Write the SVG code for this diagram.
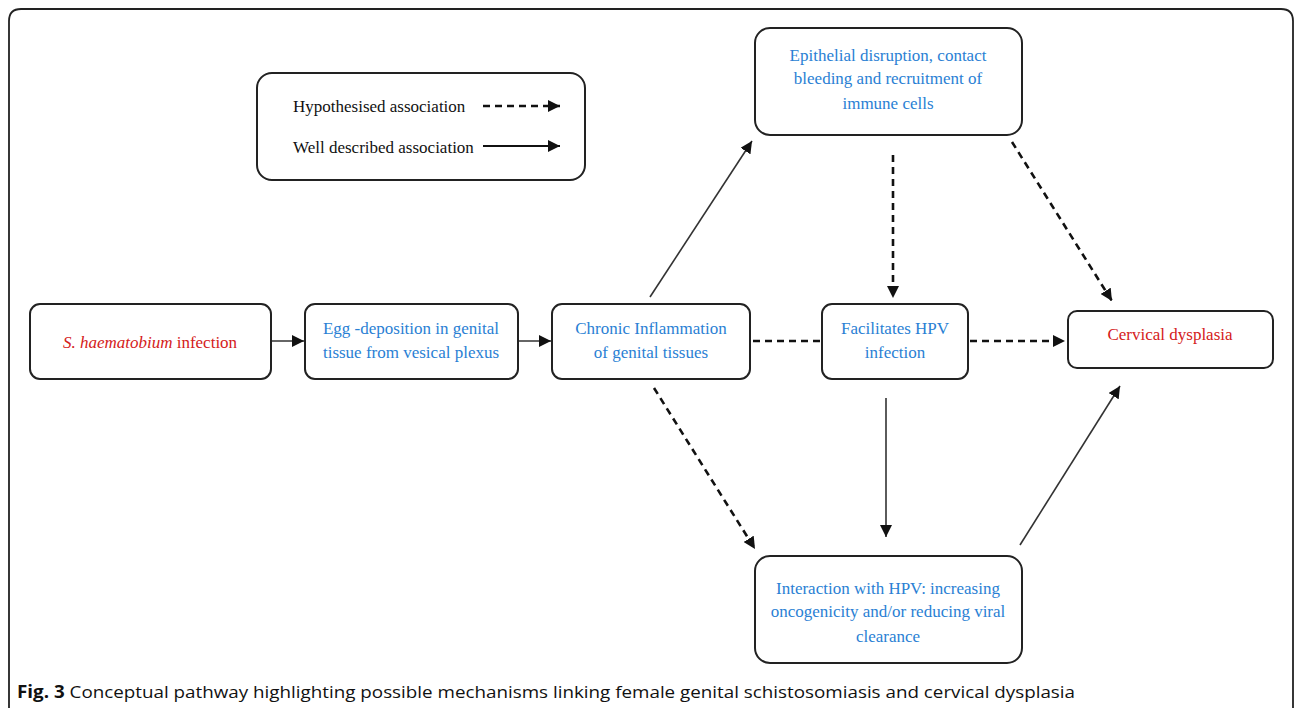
<svg xmlns="http://www.w3.org/2000/svg" width="1295" height="708" viewBox="0 0 1295 708">
<style>
.box{fill:#fff;stroke:#222;stroke-width:2}
.t{font-family:"Liberation Serif",serif;font-size:17px;text-anchor:middle}
.blue{fill:#2a7fd4}
.red{fill:#d42020}
.solid{stroke:#333;stroke-width:1.6;fill:none}
.dash{stroke:#111;stroke-width:2.6;stroke-dasharray:7 5;fill:none}
</style>
<defs>
<marker id="ah" markerUnits="userSpaceOnUse" markerWidth="14" markerHeight="12" refX="12" refY="6" orient="auto">
<path d="M0,0 L12,6 L0,12 Z" fill="#111"/>
</marker>
</defs>
<rect x="0" y="0" width="1295" height="708" fill="#fff"/>
<path d="M9,720 V21 Q9,9 21,9 H1281 Q1293,9 1293,21 V720" fill="none" stroke="#222" stroke-width="1.8"/>
<g id="legend">
<rect class="box" x="257" y="73" width="328" height="107" rx="15"/>
<text x="293" y="112" font-family="Liberation Serif,serif" font-size="17" fill="#111">Hypothesised association</text>
<text x="293" y="153" font-family="Liberation Serif,serif" font-size="17" fill="#111">Well described association</text>
<line class="dash" x1="483" y1="106" x2="560" y2="106" marker-end="url(#ah)"/>
<line stroke="#111" stroke-width="2.2" x1="483" y1="146" x2="560" y2="146" marker-end="url(#ah)"/>
</g>
<g id="connectors">
<line class="solid" x1="271" y1="341" x2="304" y2="341" marker-end="url(#ah)"/>
<line class="solid" x1="518" y1="341" x2="551" y2="341" marker-end="url(#ah)"/>
<line class="dash" x1="753" y1="341" x2="821" y2="341"/>
<line class="dash" x1="970" y1="341" x2="1065" y2="341" marker-end="url(#ah)"/>
<line class="solid" x1="650" y1="297" x2="752" y2="141" marker-end="url(#ah)"/>
<line class="dash" x1="893" y1="155" x2="893" y2="298" marker-end="url(#ah)"/>
<line class="dash" x1="1012" y1="142" x2="1112" y2="301" marker-end="url(#ah)"/>
<line class="dash" x1="654" y1="388" x2="755" y2="549" marker-end="url(#ah)"/>
<line class="solid" x1="886" y1="398" x2="886" y2="537" marker-end="url(#ah)"/>
<line class="solid" x1="1020" y1="545" x2="1120" y2="386" marker-end="url(#ah)"/>
</g>
<g id="n-infection">
<rect class="box" x="30" y="304" width="241" height="75" rx="10"/>
<text class="t red" x="150" y="348"><tspan font-style="italic">S. haematobium</tspan> infection</text>
</g>
<g id="n-egg">
<rect class="box" x="305" y="304" width="213" height="75" rx="10"/>
<text class="t blue" x="411" y="334">Egg -deposition in genital</text>
<text class="t blue" x="411" y="358">tissue from vesical plexus</text>
</g>
<g id="n-chronic">
<rect class="box" x="552" y="304" width="198" height="75" rx="10"/>
<text class="t blue" x="651" y="334">Chronic Inflammation</text>
<text class="t blue" x="651" y="358">of genital tissues</text>
</g>
<g id="n-facilitates">
<rect class="box" x="822" y="304" width="146" height="75" rx="10"/>
<text class="t blue" x="895" y="334">Facilitates HPV</text>
<text class="t blue" x="895" y="358">infection</text>
</g>
<g id="n-cervical">
<rect class="box" x="1068" y="311" width="205" height="57" rx="9"/>
<text class="t red" x="1170" y="340">Cervical dysplasia</text>
</g>
<g id="n-epithelial">
<rect class="box" x="755" y="28" width="267" height="107" rx="15"/>
<text class="t blue" x="888" y="61">Epithelial disruption, contact</text>
<text class="t blue" x="888" y="84">bleeding and recruitment of</text>
<text class="t blue" x="888" y="109">immune cells</text>
</g>
<g id="n-interaction">
<rect class="box" x="755" y="556" width="267" height="107" rx="15"/>
<text class="t blue" x="888" y="594">Interaction with HPV: increasing</text>
<text class="t blue" x="888" y="617">oncogenicity and/or reducing viral</text>
<text class="t blue" x="888" y="642">clearance</text>
</g>
<text x="17" y="698" font-family="Open Sans,sans-serif" font-size="17" fill="#111" textLength="1058" lengthAdjust="spacingAndGlyphs"><tspan font-weight="bold">Fig. 3</tspan> Conceptual pathway highlighting possible mechanisms linking female genital schistosomiasis and cervical dysplasia</text>
</svg>
